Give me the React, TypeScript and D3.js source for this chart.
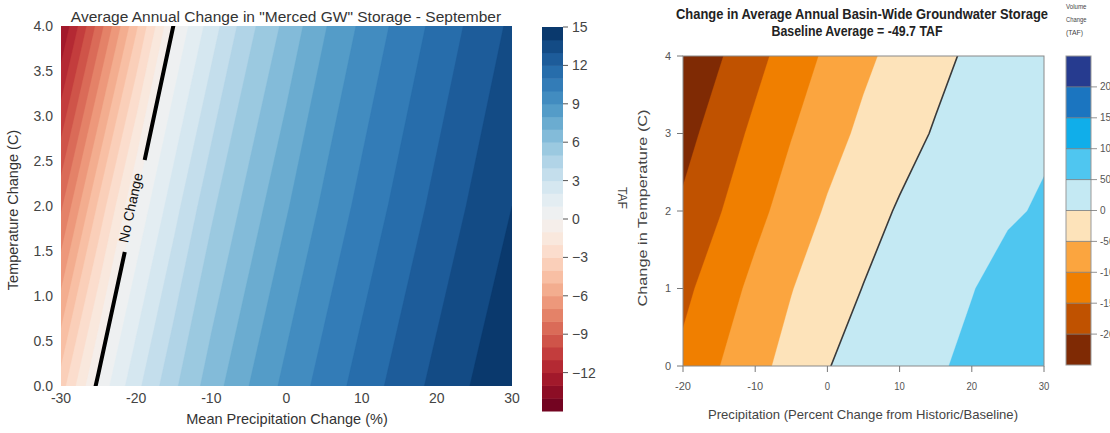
import React from 'react';
import * as d3 from 'd3';

const W = 1110;
const H = 433;

// ---------- Merced GW storage, September (left panel) ----------
// Storage change sampled on a precipitation x temperature grid.
const mercedPrecip = [-30, -25, -20, -15, -10, -5, 0, 5, 10, 15, 20, 25, 30];
const mercedTemp = [0, 2, 4];
const mercedAt0C = [-3.5, 0.3, 2.7, 4.8, 6.5, 8.0, 9.3, 10.4, 11.4, 12.4, 13.3, 14.1, 14.9];
const mercedAt2C = [-8.2, -3.8, 0.15, 2.6, 4.8, 6.4, 7.9, 9.2, 10.3, 11.3, 12.3, 13.2, 14.0];
const mercedAt4C = [-13.0, -8.6, -4.2, 0.05, 2.5, 4.7, 6.3, 7.9, 9.2, 10.3, 11.3, 12.3, 13.2];
const mercedLevels = [-15, -14, -13, -12, -11, -10, -9, -8, -7, -6, -5, -4, -3, -2, -1, 0,
  1, 2, 3, 4, 5, 6, 7, 8, 9, 10, 11, 12, 13, 14, 15];
const mercedBarTicks = [-12, -9, -6, -3, 0, 3, 6, 9, 12, 15];
const mercedXTicks = [-30, -20, -10, 0, 10, 20, 30];
const mercedYTicks = [0, 0.5, 1, 1.5, 2, 2.5, 3, 3.5, 4];

// ---------- Basin-wide groundwater storage (right panel) ----------
const basinPrecip = [-20, -15, -10, -5, 0, 5, 10, 15, 20, 25, 30];
const basinTemp = [0, 1, 2, 3, 4];
const basinAt0C = [-138.6, -101, -65, -32.7, -1.5, 13.8, 29.1, 44.5, 59.6, 74.6, 89];
const basinAt1C = [-161.8, -125, -86.7, -52, -22.5, 1.3, 17, 32.7, 48.4, 64, 79.5];
const basinAt2C = [-191.6, -153, -114.6, -78.2, -44.7, -18.1, 4.4, 18, 31.7, 45.4, 54];
const basinAt3C = [-217.4, -177.8, -139, -102.2, -68.7, -39.9, -17, 3.8, 18.3, 32.8, 45];
const basinAt4C = [-244, -204.7, -165.2, -126.8, -91.3, -60, -34.7, -12.2, 8, 25.6, 43];
const basinLevels = [-250, -200, -150, -100, -50, 0, 50, 100, 150, 200, 250];
const basinColors = ['#7f2a04', '#c05200', '#f07f00', '#fba53f', '#fde3ba',
  '#c4e9f3', '#4fc6f0', '#10aeea', '#1b75c0', '#263b8f'];
const basinBarTicks = [-200, -150, -100, -50, 0, 50, 100, 150, 200];
const basinXTicks = [-20, -10, 0, 10, 20, 30];
const basinYTicks = [0, 1, 2, 3, 4];
const basinKeyTitle = ['Volume', 'Change', '(TAF)'];

const FONT = "'Liberation Sans', Arial, Helvetica, sans-serif";

type Scale = d3.ScaleLinear<number, number>;

// Grid values live at cell centres in d3.contours, so grid coord g maps to
// axis value v0 + (g - 0.5) * step.
function gridProjection(xs: number[], ys: number[], sx: Scale, sy: Scale) {
  const dx = xs[1] - xs[0];
  const dy = ys[1] - ys[0];
  return d3.geoPath(
    d3.geoTransform({
      point(gx: number, gy: number) {
        (this as any).stream.point(sx(xs[0] + (gx - 0.5) * dx), sy(ys[0] + (gy - 0.5) * dy));
      },
    })
  );
}

function bands(rows: number[][], xs: number[], ys: number[], sx: Scale, sy: Scale, levels: number[]) {
  const values = rows.flat();
  const path = gridProjection(xs, ys, sx, sy);
  const gen = d3.contours().size([xs.length, ys.length]).thresholds(levels.slice(0, -1));
  return gen(values).map((c) => ({ value: c.value, d: path(c) || '' }));
}

function isoline(rows: number[][], xs: number[], ys: number[], sx: Scale, sy: Scale, level: number) {
  const values = rows.flat();
  const path = gridProjection(xs, ys, sx, sy);
  const gen = d3.contours().size([xs.length, ys.length]);
  return path(gen.contour(values, level)) || '';
}

// Precipitation at which a row of values crosses zero.
function zeroCrossing(row: number[], xs: number[]) {
  for (let i = 0; i < row.length - 1; i++) {
    const a = row[i];
    const b = row[i + 1];
    if ((a <= 0 && b > 0) || (a >= 0 && b < 0)) {
      return xs[i] + ((0 - a) / (b - a)) * (xs[i + 1] - xs[i]);
    }
  }
  return xs[0];
}

export default function App() {
  // ----- left panel scales -----
  const lx = d3.scaleLinear().domain([-30, 30]).range([61, 512]);
  const ly = d3.scaleLinear().domain([0, 4]).range([386, 26]);
  const mercedRows = [mercedAt0C, mercedAt2C, mercedAt4C];
  const mercedBands = bands(mercedRows, mercedPrecip, mercedTemp, lx, ly, mercedLevels);
  const mercedZero = isoline(mercedRows, mercedPrecip, mercedTemp, lx, ly, 0);
  const mercedColor = (lo: number) => d3.interpolateRdBu((lo + 0.5 - mercedLevels[0]) /
    (mercedLevels[mercedLevels.length - 1] - mercedLevels[0]));
  const cbY = d3.scaleLinear().domain([-15, 15]).range([411, 27]);

  // label position along the zero line
  const p0 = zeroCrossing(mercedAt0C, mercedPrecip);
  const p4 = zeroCrossing(mercedAt4C, mercedPrecip);
  const p2 = zeroCrossing(mercedAt2C, mercedPrecip);
  const angle = (Math.atan2(ly(4) - ly(0), lx(p4) - lx(p0)) * 180) / Math.PI;
  const labX = lx(p2) - 3;
  const labY = ly(2) + 2;

  // ----- right panel scales -----
  const rx = d3.scaleLinear().domain([-20, 30]).range([683, 1044]);
  const ry = d3.scaleLinear().domain([0, 4]).range([366, 56]);
  const basinRows = [basinAt0C, basinAt1C, basinAt2C, basinAt3C, basinAt4C];
  const basinBands = bands(basinRows, basinPrecip, basinTemp, rx, ry, basinLevels);
  const basinZero = isoline(basinRows, basinPrecip, basinTemp, rx, ry, 0);
  const bcY = d3.scaleLinear().domain([-250, 250]).range([365, 56]);

  return (
    <svg
      width={W}
      height={H}
      viewBox={`0 0 ${W} ${H}`}
      style={{ position: 'absolute', left: 0, top: 0, background: '#fff' }}
      fontFamily={FONT}
    >
      <defs>
        <clipPath id="mercedClip">
          <rect x={lx(-30)} y={ly(4)} width={lx(30) - lx(-30)} height={ly(0) - ly(4)} />
        </clipPath>
        <clipPath id="basinClip">
          <rect x={rx(-20)} y={ry(4)} width={rx(30) - rx(-20)} height={ry(0) - ry(4)} />
        </clipPath>
        <mask id="noChangeGap" maskUnits="userSpaceOnUse" x={0} y={0} width={W} height={H}>
          <rect x={0} y={0} width={W} height={H} fill="#fff" />
          <rect x={-47} y={-12} width={94} height={24} fill="#000"
            transform={`translate(${lx(p2)},${ly(2)}) rotate(${angle})`} />
        </mask>
      </defs>

      {/* ===== Left: Merced GW ===== */}
      <text x={286} y={22} textAnchor="middle" fontSize={15.5} fill="#333">
        Average Annual Change in "Merced GW" Storage - September
      </text>
      <g clipPath="url(#mercedClip)">
        {mercedBands.map((b) => (
          <path key={b.value} d={b.d} fill={mercedColor(b.value)} stroke={mercedColor(b.value)} strokeWidth={0.3} />
        ))}
        <path d={mercedZero} fill="none" stroke="#000" strokeWidth={4} mask="url(#noChangeGap)" />
      </g>
      <text x={labX} y={labY} transform={`rotate(${angle},${labX},${labY})`} textAnchor="middle"
        dominantBaseline="middle" fontSize={14} fill="#111">
        No Change
      </text>
      {mercedYTicks.map((t) => (
        <text key={t} x={53} y={ly(t)} dy="0.35em" textAnchor="end" fontSize={14} fill="#444">
          {t.toFixed(1)}
        </text>
      ))}
      {mercedXTicks.map((t) => (
        <text key={t} x={lx(t)} y={403} textAnchor="middle" fontSize={14} fill="#444">
          {t}
        </text>
      ))}
      <text x={287} y={424} textAnchor="middle" fontSize={14.5} fill="#333">
        Mean Precipitation Change (%)
      </text>
      <text transform={`translate(18,${ly(2) + 4}) rotate(-90)`} textAnchor="middle" fontSize={14.5} fill="#333">
        Temperature Change (C)
      </text>

      {/* colour bar */}
      {mercedLevels.slice(0, -1).map((lo, i) => (
        <rect key={lo} x={542} y={cbY(mercedLevels[i + 1])} width={21}
          height={cbY(lo) - cbY(mercedLevels[i + 1]) + 0.5} fill={mercedColor(lo)} />
      ))}
      {mercedBarTicks.map((t) => (
        <g key={t}>
          <line x1={563} x2={568} y1={cbY(t)} y2={cbY(t)} stroke="#555" strokeWidth={1} />
          <text x={572} y={cbY(t)} dy="0.35em" fontSize={14} fill="#444">
            {t < 0 ? `\u2212${-t}` : t}
          </text>
        </g>
      ))}

      {/* ===== Right: basin-wide ===== */}
      <text x={862} y={19} textAnchor="middle" fontSize={15} fontWeight="bold" fill="#222"
        textLength={372} lengthAdjust="spacingAndGlyphs">
        Change in Average Annual Basin-Wide Groundwater Storage
      </text>
      <text x={857} y={36} textAnchor="middle" fontSize={15} fontWeight="bold" fill="#222"
        textLength={171} lengthAdjust="spacingAndGlyphs">
        Baseline Average = -49.7 TAF
      </text>
      <g clipPath="url(#basinClip)">
        {basinBands.map((b) => (
          <path key={b.value} d={b.d} fill={basinColors[basinLevels.indexOf(b.value)]}
            stroke={basinColors[basinLevels.indexOf(b.value)]} strokeWidth={0.3} />
        ))}
        <path d={basinZero} fill="none" stroke="#3a3a3a" strokeWidth={1.6} />
      </g>
      <rect x={rx(-20)} y={ry(4)} width={rx(30) - rx(-20)} height={ry(0) - ry(4)}
        fill="none" stroke="#8a8a8a" strokeWidth={1} />
      {basinXTicks.map((t) => (
        <g key={t}>
          <line x1={rx(t)} x2={rx(t)} y1={ry(0)} y2={ry(0) + 6} stroke="#777" />
          <text x={rx(t)} y={390} textAnchor="middle" fontSize={11} fill="#555"
            textLength={String(t).length * 5.3} lengthAdjust="spacingAndGlyphs">
            {t}
          </text>
        </g>
      ))}
      {basinYTicks.map((t) => (
        <g key={t}>
          <line x1={rx(-20) - 6} x2={rx(-20)} y1={ry(t)} y2={ry(t)} stroke="#777" />
          <text x={671} y={ry(t)} dy="0.35em" textAnchor="end" fontSize={11} fill="#555">
            {t}
          </text>
        </g>
      ))}
      <text x={863} y={419} textAnchor="middle" fontSize={13} fill="#444"
        textLength={310} lengthAdjust="spacingAndGlyphs">
        Precipitation (Percent Change from Historic/Baseline)
      </text>
      <text transform={`translate(647,208) rotate(-90)`} textAnchor="middle" fontSize={13} fill="#444"
        textLength={197} lengthAdjust="spacingAndGlyphs">
        Change in Temperature (C)
      </text>
      <text transform={`translate(618,198) rotate(90)`} textAnchor="middle" fontSize={12} fill="#444"
        textLength={22} lengthAdjust="spacingAndGlyphs">
        TAF
      </text>

      {/* colour key */}
      {basinKeyTitle.map((s, i) => (
        <text key={s} x={1066} y={9 + i * 13} fontSize={7} fill="#444"
          textLength={s.length * 3.4} lengthAdjust="spacingAndGlyphs">
          {s}
        </text>
      ))}
      {basinColors.map((c, i) => (
        <rect key={c} x={1066} y={bcY(basinLevels[i + 1])} width={25}
          height={bcY(basinLevels[i]) - bcY(basinLevels[i + 1])} fill={c} />
      ))}
      <rect x={1066} y={bcY(250)} width={25} height={bcY(-250) - bcY(250)} fill="none" stroke="#999" />
      {basinBarTicks.map((t) => (
        <g key={t}>
          <line x1={1066} x2={1097} y1={bcY(t)} y2={bcY(t)} stroke="#777" strokeWidth={0.8} />
          <text x={1100} y={bcY(t)} dy="0.35em" fontSize={10} fill="#555">
            {t}
          </text>
        </g>
      ))}
    </svg>
  );
}
